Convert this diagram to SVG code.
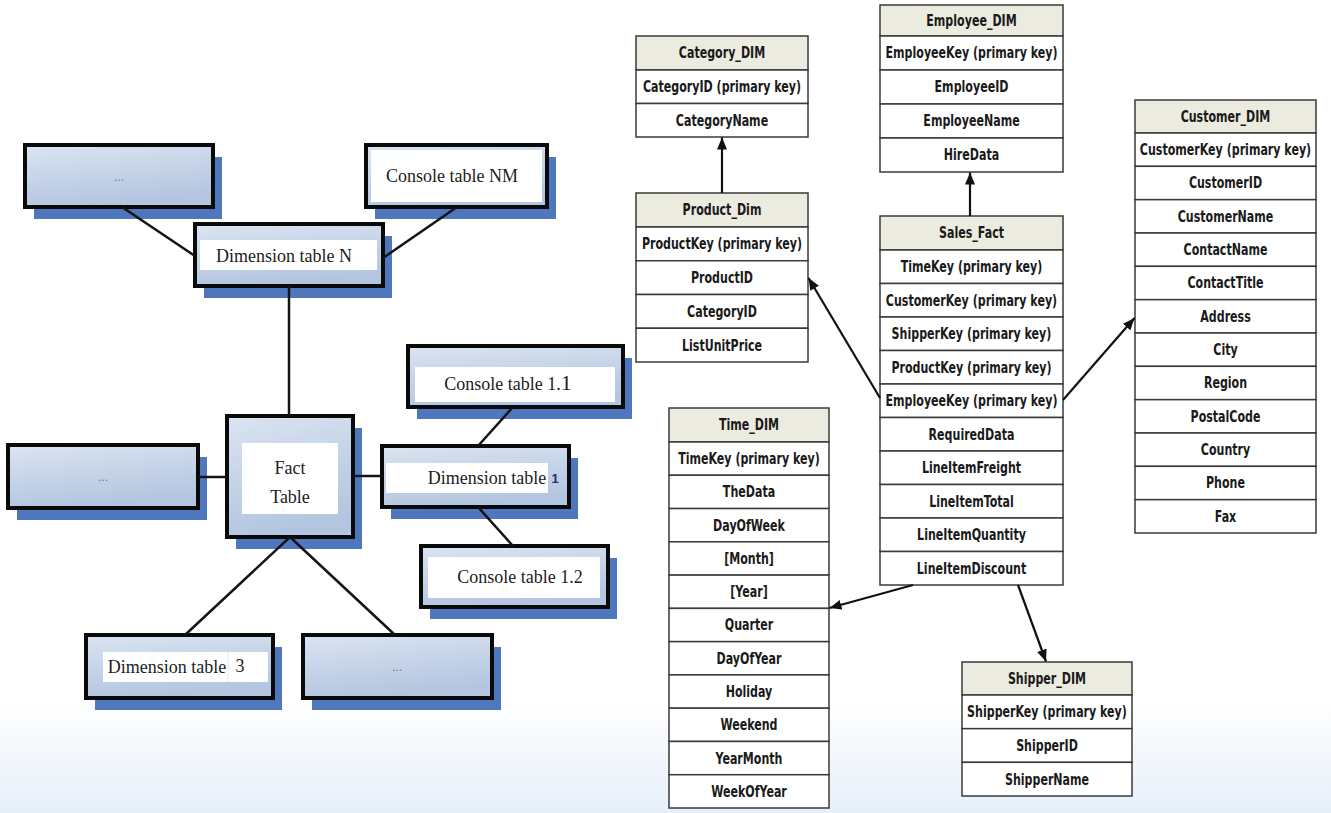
<svg xmlns="http://www.w3.org/2000/svg" width="1331" height="813" viewBox="0 0 1331 813">
  <defs>
    <linearGradient id="boxGrad" x1="0" y1="0" x2="0.3" y2="1">
      <stop offset="0" stop-color="#dbe4f1"/>
      <stop offset="1" stop-color="#b3c5e0"/>
    </linearGradient>
    <linearGradient id="floorGrad" x1="0" y1="0" x2="0" y2="1">
      <stop offset="0" stop-color="#ffffff"/>
      <stop offset="1" stop-color="#e6eff9"/>
    </linearGradient>
    <marker id="arrow" viewBox="0 0 12 10" refX="12" refY="5" markerWidth="12" markerHeight="10" markerUnits="userSpaceOnUse" orient="auto">
      <path d="M0,0 L12,5 L0,10 z" fill="#111"/>
    </marker>
  </defs>
  <style>
    .shadow { fill: #4e77bd; }
    .box { fill: url(#boxGrad); stroke: #0a0a0a; stroke-width: 4; }
    .lbl { fill: #ffffff; }
    .serif { font-family: "Liberation Serif", "Times New Roman", serif; font-size: 18px; fill: #1c1c1c; text-anchor: middle; }
    .dots { font-family: "Liberation Sans", Arial, sans-serif; font-size: 12px; fill: #6a7890; text-anchor: middle; }
    .link { stroke: #141414; stroke-width: 2.5; fill: none; }
    .arrow { stroke: #111; stroke-width: 2.2; fill: none; marker-end: url(#arrow); }
    .hd { fill: #ecebe0; stroke: #3a3a3a; stroke-width: 1.5; }
    .row { fill: #ffffff; stroke: #3a3a3a; stroke-width: 1.5; }
    .tt { font-family: "DejaVu Sans Condensed", "DejaVu Sans", sans-serif; font-weight: bold; font-size: 15px; fill: #1a1a1a; text-anchor: middle; }
  </style>

  <!-- page background with soft blue floor -->
  <rect x="0" y="0" width="1331" height="813" fill="#ffffff"/>
  <rect x="0" y="700" width="1331" height="113" fill="url(#floorGrad)"/>

  <!-- ===== generic star schema (left) ===== -->
  <g id="dots-top">
    <rect class="shadow" x="34" y="157" width="188" height="62"/>
    <rect class="box" x="25" y="145" width="188" height="62"/>
    <text class="dots" x="119" y="181">...</text>
  </g>
  <g id="console-nm">
    <rect class="shadow" x="375" y="157" width="181" height="62"/>
    <rect class="box" x="366" y="145" width="181" height="62"/>
    <rect class="lbl" x="371" y="150" width="171" height="52"/>
    <text class="serif" x="452" y="182">Console table NM</text>
  </g>
  <g id="dimension-n">
    <rect class="shadow" x="204" y="236" width="188" height="62"/>
    <rect class="box" x="195" y="224" width="188" height="62"/>
    <rect class="lbl" x="200" y="240" width="177" height="30"/>
    <text class="serif" x="284" y="262">Dimension table N</text>
  </g>
  <g id="fact-table">
    <rect class="shadow" x="236" y="428" width="126" height="121"/>
    <rect class="box" x="227" y="416" width="126" height="121"/>
    <rect class="lbl" x="242" y="443" width="96" height="71"/>
    <text class="serif" x="290" y="474">Fact</text>
    <text class="serif" x="290" y="503">Table</text>
  </g>
  <g id="dots-left">
    <rect class="shadow" x="17" y="457" width="190" height="63"/>
    <rect class="box" x="8" y="445" width="190" height="63"/>
    <text class="dots" x="103" y="481">...</text>
  </g>
  <g id="dimension-1">
    <rect class="shadow" x="391" y="458" width="187" height="61"/>
    <rect class="box" x="382" y="446" width="187" height="61"/>
    <rect class="lbl" x="386" y="463" width="162" height="30"/>
    <text class="serif" x="487" y="484">Dimension table</text>
    <text x="555" y="483" font-family="Liberation Sans, Arial, sans-serif" font-size="13" font-weight="bold" fill="#22335a" text-anchor="middle">1</text>
  </g>
  <g id="console-1-1">
    <rect class="shadow" x="417" y="358" width="215" height="61"/>
    <rect class="box" x="408" y="346" width="215" height="61"/>
    <rect class="lbl" x="415" y="367" width="200" height="35"/>
    <text class="serif" x="508" y="390">Console table 1.<tspan font-size="22">1</tspan></text>
  </g>
  <g id="console-1-2">
    <rect class="shadow" x="430" y="558" width="187" height="61"/>
    <rect class="box" x="421" y="546" width="187" height="61"/>
    <rect class="lbl" x="428" y="557" width="172" height="41"/>
    <text class="serif" x="520" y="583">Console table 1.2</text>
  </g>
  <g id="dimension-3">
    <rect class="shadow" x="95" y="647" width="187" height="63"/>
    <rect class="box" x="86" y="635" width="187" height="63"/>
    <rect class="lbl" x="103" y="652" width="165" height="30"/>
    <line x1="228" y1="652" x2="228" y2="682" stroke="#e3e8f0" stroke-width="1"/>
    <text class="serif" x="167" y="673">Dimension table</text>
    <text class="serif" x="240" y="672" font-size="20">3</text>
  </g>
  <g id="dots-bottom">
    <rect class="shadow" x="312" y="647" width="189" height="63"/>
    <rect class="box" x="303" y="635" width="189" height="63"/>
    <text class="dots" x="397" y="671">...</text>
  </g>

  <!-- ===== sales data warehouse (right) ===== -->
  <!-- column labels are set in a narrowed face: each block is centred on the table and squeezed horizontally -->
  <g id="category-dim">
    <rect class="hd" x="636" y="36" width="172" height="34"/>
    <rect class="row" x="636" y="70" width="172" height="33.5"/>
    <rect class="row" x="636" y="103.5" width="172" height="33.5"/>
    <g transform="translate(722 0) scale(0.82 1)">
      <text class="tt" x="0" y="58.5">Category_DIM</text>
      <text class="tt" x="0" y="92.3">CategoryID (primary key)</text>
      <text class="tt" x="0" y="125.8">CategoryName</text>
    </g>
  </g>
  <g id="product-dim">
    <rect class="hd" x="636" y="193" width="172" height="34"/>
    <rect class="row" x="636" y="227" width="172" height="33.75"/>
    <rect class="row" x="636" y="260.75" width="172" height="33.75"/>
    <rect class="row" x="636" y="294.5" width="172" height="33.75"/>
    <rect class="row" x="636" y="328.25" width="172" height="33.75"/>
    <g transform="translate(722 0) scale(0.82 1)">
      <text class="tt" x="0" y="215.5">Product_Dim</text>
      <text class="tt" x="0" y="249.4">ProductKey (primary key)</text>
      <text class="tt" x="0" y="283.1">ProductID</text>
      <text class="tt" x="0" y="316.9">CategoryID</text>
      <text class="tt" x="0" y="350.6">ListUnitPrice</text>
    </g>
  </g>
  <g id="employee-dim">
    <rect class="hd" x="880" y="5" width="183" height="31"/>
    <rect class="row" x="880" y="36" width="183" height="34"/>
    <rect class="row" x="880" y="70" width="183" height="34"/>
    <rect class="row" x="880" y="104" width="183" height="34"/>
    <rect class="row" x="880" y="138" width="183" height="34"/>
    <g transform="translate(971.5 0) scale(0.82 1)">
      <text class="tt" x="0" y="26">Employee_DIM</text>
      <text class="tt" x="0" y="58.5">EmployeeKey (primary key)</text>
      <text class="tt" x="0" y="92.5">EmployeeID</text>
      <text class="tt" x="0" y="126.5">EmployeeName</text>
      <text class="tt" x="0" y="160.5">HireData</text>
    </g>
  </g>
  <g id="sales-fact">
    <rect class="hd" x="880" y="216" width="183" height="34"/>
    <rect class="row" x="880" y="250" width="183" height="33.5"/>
    <rect class="row" x="880" y="283.5" width="183" height="33.5"/>
    <rect class="row" x="880" y="317" width="183" height="33.5"/>
    <rect class="row" x="880" y="350.5" width="183" height="33.5"/>
    <rect class="row" x="880" y="384" width="183" height="33.5"/>
    <rect class="row" x="880" y="417.5" width="183" height="33.5"/>
    <rect class="row" x="880" y="451" width="183" height="33.5"/>
    <rect class="row" x="880" y="484.5" width="183" height="33.5"/>
    <rect class="row" x="880" y="518" width="183" height="33.5"/>
    <rect class="row" x="880" y="551.5" width="183" height="33.5"/>
    <g transform="translate(971.5 0) scale(0.82 1)">
      <text class="tt" x="0" y="238.5">Sales_Fact</text>
      <text class="tt" x="0" y="272.3">TimeKey (primary key)</text>
      <text class="tt" x="0" y="305.8">CustomerKey (primary key)</text>
      <text class="tt" x="0" y="339.3">ShipperKey (primary key)</text>
      <text class="tt" x="0" y="372.8">ProductKey (primary key)</text>
      <text class="tt" x="0" y="406.3">EmployeeKey (primary key)</text>
      <text class="tt" x="0" y="439.8">RequiredData</text>
      <text class="tt" x="0" y="473.3">LineItemFreight</text>
      <text class="tt" x="0" y="506.8">LineItemTotal</text>
      <text class="tt" x="0" y="540.3">LineItemQuantity</text>
      <text class="tt" x="0" y="573.8">LineItemDiscount</text>
    </g>
  </g>
  <g id="customer-dim">
    <rect class="hd" x="1135" y="100" width="181" height="33"/>
    <rect class="row" x="1135" y="133" width="181" height="33.33"/>
    <rect class="row" x="1135" y="166.33" width="181" height="33.33"/>
    <rect class="row" x="1135" y="199.67" width="181" height="33.33"/>
    <rect class="row" x="1135" y="233" width="181" height="33.33"/>
    <rect class="row" x="1135" y="266.33" width="181" height="33.33"/>
    <rect class="row" x="1135" y="299.67" width="181" height="33.33"/>
    <rect class="row" x="1135" y="333" width="181" height="33.33"/>
    <rect class="row" x="1135" y="366.33" width="181" height="33.33"/>
    <rect class="row" x="1135" y="399.67" width="181" height="33.33"/>
    <rect class="row" x="1135" y="433" width="181" height="33.33"/>
    <rect class="row" x="1135" y="466.33" width="181" height="33.33"/>
    <rect class="row" x="1135" y="499.67" width="181" height="33.33"/>
    <g transform="translate(1225.5 0) scale(0.82 1)">
      <text class="tt" x="0" y="122">Customer_DIM</text>
      <text class="tt" x="0" y="155.2">CustomerKey (primary key)</text>
      <text class="tt" x="0" y="188.5">CustomerID</text>
      <text class="tt" x="0" y="221.8">CustomerName</text>
      <text class="tt" x="0" y="255.2">ContactName</text>
      <text class="tt" x="0" y="288.5">ContactTitle</text>
      <text class="tt" x="0" y="321.8">Address</text>
      <text class="tt" x="0" y="355.2">City</text>
      <text class="tt" x="0" y="388.5">Region</text>
      <text class="tt" x="0" y="421.8">PostalCode</text>
      <text class="tt" x="0" y="455.2">Country</text>
      <text class="tt" x="0" y="488.5">Phone</text>
      <text class="tt" x="0" y="521.8">Fax</text>
    </g>
  </g>
  <g id="time-dim">
    <rect class="hd" x="669" y="408" width="160" height="34"/>
    <rect class="row" x="669" y="442" width="160" height="33.27"/>
    <rect class="row" x="669" y="475.27" width="160" height="33.27"/>
    <rect class="row" x="669" y="508.55" width="160" height="33.27"/>
    <rect class="row" x="669" y="541.82" width="160" height="33.27"/>
    <rect class="row" x="669" y="575.09" width="160" height="33.27"/>
    <rect class="row" x="669" y="608.36" width="160" height="33.27"/>
    <rect class="row" x="669" y="641.64" width="160" height="33.27"/>
    <rect class="row" x="669" y="674.91" width="160" height="33.27"/>
    <rect class="row" x="669" y="708.18" width="160" height="33.27"/>
    <rect class="row" x="669" y="741.45" width="160" height="33.27"/>
    <rect class="row" x="669" y="774.73" width="160" height="33.27"/>
    <g transform="translate(749 0) scale(0.82 1)">
      <text class="tt" x="0" y="430.5">Time_DIM</text>
      <text class="tt" x="0" y="464.1">TimeKey (primary key)</text>
      <text class="tt" x="0" y="497.4">TheData</text>
      <text class="tt" x="0" y="530.7">DayOfWeek</text>
      <text class="tt" x="0" y="564">[Month]</text>
      <text class="tt" x="0" y="597.2">[Year]</text>
      <text class="tt" x="0" y="630.5">Quarter</text>
      <text class="tt" x="0" y="663.8">DayOfYear</text>
      <text class="tt" x="0" y="697">Holiday</text>
      <text class="tt" x="0" y="730.3">Weekend</text>
      <text class="tt" x="0" y="763.6">YearMonth</text>
      <text class="tt" x="0" y="796.9">WeekOfYear</text>
    </g>
  </g>
  <g id="shipper-dim">
    <rect class="hd" x="962" y="662" width="170" height="33"/>
    <rect class="row" x="962" y="695" width="170" height="33.67"/>
    <rect class="row" x="962" y="728.67" width="170" height="33.67"/>
    <rect class="row" x="962" y="762.33" width="170" height="33.67"/>
    <g transform="translate(1047 0) scale(0.82 1)">
      <text class="tt" x="0" y="684">Shipper_DIM</text>
      <text class="tt" x="0" y="717.3">ShipperKey (primary key)</text>
      <text class="tt" x="0" y="751">ShipperID</text>
      <text class="tt" x="0" y="784.7">ShipperName</text>
    </g>
  </g>

  <!-- ===== connectors ===== -->
  <g id="connectors">
    <line class="link" x1="122" y1="207" x2="195" y2="256"/>
    <line class="link" x1="457" y1="207" x2="383" y2="258"/>
    <line class="link" x1="289" y1="286" x2="289" y2="416"/>
    <line class="link" x1="198" y1="477" x2="227" y2="477"/>
    <line class="link" x1="353" y1="476" x2="382" y2="476"/>
    <line class="link" x1="513" y1="407" x2="478" y2="446"/>
    <line class="link" x1="478" y1="507" x2="513" y2="546"/>
    <line class="link" x1="290" y1="537" x2="185" y2="635"/>
    <line class="link" x1="290" y1="537" x2="395" y2="635"/>

    <line class="arrow" x1="722" y1="193" x2="722" y2="137.5"/>
    <line class="arrow" x1="970" y1="216" x2="970" y2="172.5"/>
    <line class="arrow" x1="880" y1="398" x2="808.5" y2="278"/>
    <line class="arrow" x1="1063" y1="400" x2="1134.5" y2="318"/>
    <line class="arrow" x1="913" y1="585" x2="829.5" y2="608"/>
    <line class="arrow" x1="1018" y1="585" x2="1046" y2="661.5"/>
  </g>
</svg>
